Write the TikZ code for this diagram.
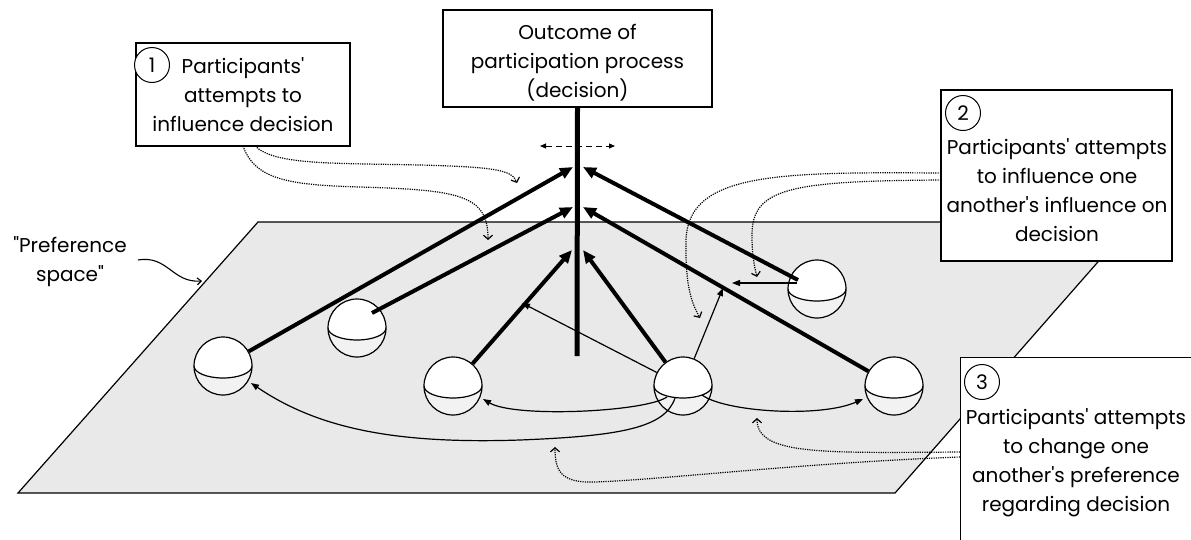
\documentclass[tikz,border=0pt]{standalone}
\usepackage{fontspec}
\newfontfamily\labelfont{Poppins}
\usetikzlibrary{arrows, arrows.meta}
\usetikzlibrary{calc}

\definecolor{planegray}{HTML}{E9E9E9}
\definecolor{ballgray}{HTML}{F2F2F2}

\tikzset{
  box/.style={draw, fill=white, line width=1.2pt, inner sep=0pt, align=center},
  numcircle/.style={circle, draw, fill=white, line width=1pt, minimum size=35pt, inner sep=0pt},
  ball/.style={circle, draw, fill=white, line width=1.2pt, minimum size=58pt, inner sep=0pt,
    path picture={
      \fill[ballgray] ($(path picture bounding box.center)+(-29pt,0pt)$)
        arc[start angle=180, end angle=360, x radius=29pt, y radius=12pt]
        -- ++(0pt,-30pt) -- ++(-58pt,0pt) -- cycle;
      \draw[line width=1.2pt] ($(path picture bounding box.center)+(-29pt,0pt)$)
        arc[start angle=180, end angle=360, x radius=29pt, y radius=12pt];
    }},
  pull/.style={line width=4pt, -{Triangle[length=13pt,width=11pt]}},
  push/.style={line width=1.2pt, -{Triangle[length=8pt,width=6pt]}},
  hint/.style={line width=1.2pt, dash pattern=on 1.2pt off 1.1pt, -{Straight Barb[length=4pt,width=9pt]}},
}

\begin{document}
\begin{tikzpicture}[x=1pt, y=-1pt, font=\labelfont\fontsize{20}{29}\selectfont]
    \useasboundingbox (0,0) rectangle (1191,539);

    \draw[fill=planegray, line width=1.2pt] (258,222) -- (1133,222) -- (895,493) -- (18,493) -- cycle;

    \node[ball] (s1) at (223,366) {};
    \node[ball] (s2) at (357,328) {};
    \node[ball] (s3) at (453,386) {};
    \node[ball] (s4) at (683,386) {};
    \node[ball] (s5) at (894,386) {};
    \node[ball] (s6) at (817,289) {};

    \node[box, minimum width=269pt, minimum height=97pt] (outcome) at (577.5,58.5) {};
    \node[align=center] (outcometext) at (577.5,63) {Outcome of\\participation process\\(decision)};

    \coordinate (stemfoot) at (577,356);
    \coordinate (swingl) at (540,146);
    \coordinate (swingr) at (615,146);
    \coordinate (l1) at (573,167);
    \coordinate (r1) at (583,167);
    \coordinate (l2) at (573,207);
    \coordinate (r2) at (583,207);
    \coordinate (l3) at (572,250);
    \coordinate (r3) at (583,250);
    \coordinate (s2in) at (372,313);
    \coordinate (s6in) at (798,280);

    \draw[line width=5pt] (outcome.south) -- (stemfoot);
    \draw[line width=1pt, dash pattern=on 6pt off 4pt, {Triangle[length=6pt,width=5pt]}-{Triangle[length=6pt,width=5pt]}] (swingl) -- (swingr);

    \draw[pull] (s1) -- (l1);
    \draw[pull] (s2in) -- (l2);
    \draw[pull] (s3) -- (l3);
    \draw[pull] (s4) -- (r3);
    \draw[pull] (s5) -- (r2);
    \draw[pull] (s6in) -- (r1);

    \coordinate (ta) at (522,303);
    \coordinate (tb) at (723,288);
    \coordinate (tc) at (732,283);
    \coordinate (s6out) at (797,283);
    \draw[push] (s4) -- (ta);
    \draw[push] (s4) -- (tb);
    \draw[push] (s6out) -- (tc);

    \coordinate (s4a) at (667,397);
    \coordinate (s4b) at (675,398);
    \coordinate (s4c) at (702,395);
    \coordinate (s3in) at (483,399);
    \coordinate (s1in) at (251,383);
    \coordinate (s5in) at (863,399);
    \draw[push] (s4a) .. controls (645,412) and (515,418) .. (s3in);
    \draw[push] (s4b) .. controls (665,428) and (620,436) .. (520,440) .. controls (400,444) and (320,430) .. (s1in);
    \draw[push] (s4c) .. controls (725,412) and (820,418) .. (s5in);

    \node[box, minimum width=214pt, minimum height=103pt] (attempt1) at (243,94.5) {Participants'\\attempts to\\influence decision};
    \node[numcircle] (n1) at (152,65) {1};

    \node[box, minimum width=231pt, minimum height=171pt] (attempt2) at (1056.5,175.5) {};
    \node[numcircle] (n2) at (963,113) {2};
    \node[align=center] (text2) at (1057,190) {Participants' attempts\\to influence one\\another's influence on\\decision};

    \node[box, minimum width=240pt, minimum height=190pt, anchor=north west] (attempt3) at (960,357) {};
    \node[numcircle] (n3) at (982,382) {3};
    \node[align=center] (text3) at (1076,463) {Participants' attempts\\to change one\\another's preference\\regarding decision};

    \coordinate (h1a) at (255,146);
    \coordinate (h1b) at (243,146);
    \coordinate (t1a) at (517,183);
    \coordinate (t1b) at (488,240);
    \draw[hint] (h1a) .. controls (275,165) and (330,163) .. (420,165) .. controls (495,167) and (512,170) .. (t1a);
    \draw[hint] (h1b) .. controls (255,180) and (290,185) .. (360,187) .. controls (460,190) and (488,195) .. (t1b);

    \coordinate (h2a) at (941,173);
    \coordinate (h2b) at (941,180);
    \coordinate (t2a) at (700,318);
    \coordinate (t2b) at (757,277);
    \draw[hint] (h2a) .. controls (780,172) and (688,172) .. (686,240) .. controls (685,290) and (693,305) .. (t2a);
    \draw[hint] (h2b) .. controls (790,181) and (752,188) .. (752,235) .. controls (752,255) and (754,265) .. (t2b);

    \coordinate (h3a) at (960,452);
    \coordinate (h3b) at (960,457);
    \coordinate (t3a) at (757,418);
    \coordinate (t3b) at (555,447);
    \draw[hint] (h3a) .. controls (820,453) and (757,455) .. (t3a);
    \draw[hint] (h3b) .. controls (800,463) and (660,480) .. (594,482) .. controls (560,483) and (555,470) .. (t3b);

    \node[align=center] (prefspace) at (70,262) {"Preference\\space"};
    \coordinate (pa) at (138,260);
    \coordinate (pb) at (202,281);
    \draw[line width=1.1pt, -{Straight Barb[length=4pt,width=7pt]}] (pa) .. controls (168,255) and (172,283) .. (pb);
\end{tikzpicture}
\end{document}
